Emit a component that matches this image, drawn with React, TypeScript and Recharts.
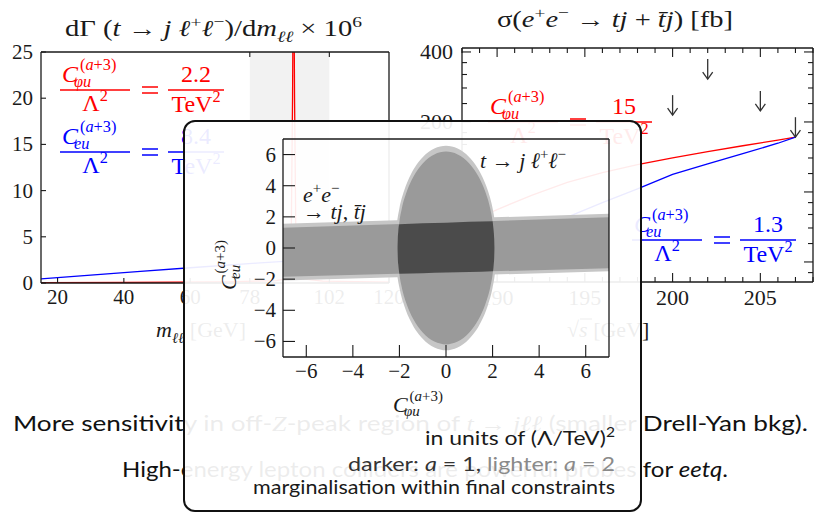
import React from 'react';
import { ComposedChart, Line, Area, Scatter, XAxis, YAxis, ReferenceArea } from 'recharts';

const W = 815;
const H = 514;
const SERIF = '"Liberation Serif", "DejaVu Serif", serif';
const SANS = 'Lato, "Liberation Sans", "DejaVu Sans", sans-serif';
const INK = '#1a1a1a';
const RED = '#ff0000';
const BLUE = '#0000ff';

// ---- left panel: dGamma(t -> j l+ l-)/dm_ll  x 1e6
const mllPhi = [15, 40, 70, 86, 89.5, 90.1, 90.5, 90.9, 91.2, 91.5, 91.9, 92.3, 93, 100, 120];
const dGammaPhi = [0.05, 0.07, 0.12, 0.25, 0.5, 0.9, 5, 20, 40, 20, 5, 0.9, 0.5, 0.2, 0.1];
const mllEu = [15, 30, 45, 60, 80, 100, 120];
const dGammaEu = [0.45, 0.85, 1.25, 1.65, 2.15, 2.6, 3.0];
const mllTicks = [20, 40, 60, 78, 102, 120];
const cutWindow = [78, 102];
const dGammaTicks = [0, 5, 10, 15, 20, 25];

// ---- right panel: sigma(e+e- -> tj + tbar j) [fb]
const sqrtS = [188, 190, 192, 194, 196, 198, 200, 202, 204, 206, 207];
const sigmaPhi = [72, 84, 97, 110, 121, 131, 140, 149, 158, 167, 172];
const sigmaEu = [50, 58, 67, 78, 90, 103, 119, 132, 146, 162, 172];
const lepEnergies = [200, 202, 205, 207];
const lepLimits = [214, 306, 223, 172];
const sqrtSTicks = [188, 189, 190, 191, 192, 193, 194, 195, 196, 197, 198, 199, 200, 201, 202, 203, 204, 205, 206, 207, 208];
const sqrtSLabels = [190, 195, 200, 205];
const sigmaTicks = [45, 50, 60, 70, 80, 90, 100, 120, 140, 160, 180, 200, 240, 280, 320, 360, 400];
const sigmaLabels = [50, 100, 200, 400];

// ---- inset: allowed region in (C_phiu, C_eu), units (Lambda/TeV)^2
const ellOuterX = [-2.17, -2.16, -2.14, -2.1, -2.0, -1.8, -1.5, -1.0, -0.5, 0, 0.5, 1.0, 1.5, 1.8, 2.0, 2.1, 2.14, 2.16, 2.17];
const ellOuterH = [0, 0.63, 1.09, 1.66, 2.55, 3.67, 4.75, 5.83, 6.39, 6.57, 6.39, 5.83, 4.75, 3.67, 2.55, 1.66, 1.09, 0.63, 0];
const ellInnerX = [-2.08, -2.07, -2.05, -2.0, -1.9, -1.7, -1.4, -1.0, -0.5, 0, 0.5, 1.0, 1.4, 1.7, 1.9, 2.0, 2.05, 2.07, 2.08];
const ellInnerH = [0, 0.61, 1.05, 1.7, 2.52, 3.57, 4.58, 5.43, 6.01, 6.19, 6.01, 5.43, 4.58, 3.57, 2.52, 1.7, 1.05, 0.61, 0];
const bandX = [-7, 7];
const bandOuterLo = [-2.08, -1.5];
const bandOuterHi = [1.55, 2.2];
const bandInnerLo = [-1.85, -1.3];
const bandInnerHi = [1.3, 1.97];
const coreX = [-2.08, -2.07, -2.05, -2.02, -2.0, 0, 2.0, 2.02, 2.05, 2.07, 2.08];
const coreLo = [-0.05, -0.61, -1.05, -1.48, -1.65, -1.575, -1.5, -1.48, -1.05, -0.61, -0.05];
const coreHi = [0.05, 0.61, 1.05, 1.48, 1.53, 1.625, 1.72, 1.48, 1.05, 0.61, 0.05];
const cTicks = [-6, -4, -2, 0, 2, 4, 6];

const rows = (xs: number[], ys: number[], k = 'x') => xs.map((x, i) => ({ [k]: x, v: ys[i] }));
const ranges = (xs: number[], lo: number[], hi: number[]) => xs.map((x, i) => ({ x, r: [lo[i], hi[i]] }));
const fmt = (v: number) => (v < 0 ? '\u2212' + Math.abs(v) : String(v));

// custom tick: draws the inward tick line and its label
const tickFn =
  (side: string, len: number | ((v: number) => number), label: ((v: number) => string) | null, size = 20, gap = 7) =>
  (p: any) => {
    const x = Number(p.x);
    const y = Number(p.y);
    const v = p.payload ? p.payload.value : 0;
    const L = typeof len === 'function' ? len(v) : len;
    const lab = label ? label(v) : '';
    let x2 = x, y2 = y, tx = x, ty = y, anchor = 'middle';
    if (side === 'left') { x2 = x + L; tx = x - gap; ty = y + size * 0.33; anchor = 'end'; }
    if (side === 'right') { x2 = x - L; tx = x + gap; ty = y + size * 0.33; anchor = 'start'; }
    if (side === 'top') { y2 = y + L; ty = y - gap; }
    if (side === 'bottom') { y2 = y - L; ty = y + gap; }
    return (
      <g>
        {L > 0 && <line x1={x} y1={y} x2={x2} y2={y2} stroke={INK} strokeWidth={1.1} />}
        {lab ? (
          <text x={tx} y={ty} textAnchor={anchor} fontFamily={SERIF} fontSize={size} fill={INK}
            style={{ fontFamily: SERIF }}>
            {lab}
          </text>
        ) : null}
      </g>
    );
  };

const axisLine = { stroke: INK, strokeWidth: 1.3 };

// plot box in page pixels -> chart margins (every axis is 1px thick)
const box = (l: number, r: number, t: number, b: number) => ({ left: l - 1, right: W - r - 1, top: t - 1, bottom: H - b - 1 });

type Seg = { t: string; i?: boolean; up?: boolean; dn?: boolean; f?: string; fam?: string };

function Rich({ x, y, size, segs, anchor = 'start', fill = INK, family = SERIF, len }: any) {
  let cur = 0;
  return (
    <text
      x={x}
      y={y}
      fontSize={size}
      fontFamily={family}
      fill={fill}
      textAnchor={anchor}
      textLength={len}
      lengthAdjust={len ? 'spacingAndGlyphs' : undefined}
    >
      {segs.map((s: Seg, k: number) => {
        const off = s.up ? -0.4 * size : s.dn ? 0.25 * size : 0;
        const dy = off - cur;
        cur = off;
        return (
          <tspan
            key={k}
            dy={dy}
            fontSize={s.up || s.dn ? 0.68 * size : size}
            fontStyle={s.i ? 'italic' : 'normal'}
            fill={s.f}
            fontFamily={s.fam}
          >
            {s.t}
          </tspan>
        );
      })}
    </text>
  );
}

// Wilson coefficient symbol C^{(a+3)}_{sub}
function Coef({ x, y, sub, fill = INK, size = 24 }: any) {
  const s = size * 0.68;
  return (
    <g fill={fill} fontFamily={SERIF}>
      <text x={x} y={y} fontSize={size} fontStyle="italic">C</text>
      <text x={x + 0.75 * size} y={y - 0.5 * size} fontSize={s}>
        (<tspan fontStyle="italic">a</tspan>+3)
      </text>
      <text x={x + 0.5 * size} y={y + 0.2 * size} fontSize={s} fontStyle="italic">{sub}</text>
    </g>
  );
}

// C/Lambda^2 = value/TeV^2
function CoefLegend({ x0, barY, sub, value, fill }: any) {
  return (
    <g>
      <Coef x={x0 + 2} y={barY - 8} sub={sub} fill={fill} />
      <line x1={x0} x2={x0 + 70} y1={barY} y2={barY} stroke={fill} strokeWidth={1.3} />
      <Rich x={x0 + 35} y={barY + 21} size={24} anchor="middle" fill={fill} segs={[{ t: '\u039B' }, { t: '2', up: true }]} />
      <line x1={x0 + 82} x2={x0 + 98} y1={barY - 3} y2={barY - 3} stroke={fill} strokeWidth={1.5} />
      <line x1={x0 + 82} x2={x0 + 98} y1={barY + 3} y2={barY + 3} stroke={fill} strokeWidth={1.5} />
      <text x={x0 + 136} y={barY - 8} fontSize={24} fontFamily={SERIF} fill={fill} textAnchor="middle">{value}</text>
      <line x1={x0 + 108} x2={x0 + 164} y1={barY} y2={barY} stroke={fill} strokeWidth={1.3} />
      <Rich x={x0 + 136} y={barY + 22} size={24} anchor="middle" fill={fill} segs={[{ t: 'TeV' }, { t: '2', up: true }]} />
    </g>
  );
}

const layer = (z: number): React.CSSProperties => ({ position: 'absolute', left: 0, top: 0, zIndex: z });

function LeftPanel() {
  return (
    <div style={layer(1)}>
      <ComposedChart width={W} height={H} margin={box(41, 389, 52, 283)}>
        <XAxis dataKey="m" type="number" domain={[15, 120]} allowDataOverflow ticks={mllTicks} interval={0}
          height={1} tickSize={0} tickMargin={0} tickLine={false} axisLine={axisLine}
          tick={tickFn('bottom', 5, (v) => String(v), 21, 21)} />
        <XAxis xAxisId="top" orientation="top" dataKey="m" type="number" domain={[15, 120]} allowDataOverflow
          ticks={cutWindow} interval={0} height={1} tickSize={0} tickMargin={0} tickLine={false} axisLine={axisLine}
          tick={tickFn('top', 5, null)} />
        <YAxis type="number" domain={[0, 25]} allowDataOverflow ticks={dGammaTicks} interval={0}
          width={1} tickSize={0} tickMargin={0} tickLine={false} axisLine={axisLine}
          tick={tickFn('left', 5, (v) => String(v), 21, 8)} />
        <YAxis yAxisId="right" orientation="right" type="number" domain={[0, 25]} allowDataOverflow
          ticks={dGammaTicks} width={1} tickSize={0} tickMargin={0} tickLine={false} axisLine={axisLine}
          tick={tickFn('right', 0, null)} />
        <ReferenceArea x1={cutWindow[0]} x2={cutWindow[1]} y1={0} y2={25} fill="#f2f2f2" fillOpacity={1} stroke="none" />
        <Line data={rows(mllEu, dGammaEu, 'm')} dataKey="v" stroke={BLUE} strokeWidth={1.3} dot={false} isAnimationActive={false} />
        <Line data={rows(mllPhi, dGammaPhi, 'm')} dataKey="v" stroke={RED} strokeWidth={1.3} dot={false} isAnimationActive={false} />
      </ComposedChart>
    </div>
  );
}

const arrowShape = (p: any) => {
  const cx = Number(p.cx);
  const cy = Number(p.cy);
  return (
    <g stroke="#333" strokeWidth={1.3} fill="none">
      <line x1={cx} y1={cy - 20} x2={cx} y2={cy} />
      <polyline points={`${cx - 5},${cy - 7} ${cx},${cy} ${cx + 5},${cy - 7}`} />
    </g>
  );
};

function RightPanel() {
  const major = (v: number) => (v % 5 === 0 ? 9 : 5);
  const ymajor = (v: number) => (sigmaLabels.includes(v) ? 9 : 5);
  return (
    <div style={layer(1)}>
      <ComposedChart width={W} height={H} margin={box(462, 813, 48, 282)}>
        <XAxis dataKey="s" type="number" domain={[188, 208]} allowDataOverflow ticks={sqrtSTicks} interval={0}
          height={1} tickSize={0} tickMargin={0} tickLine={false} axisLine={axisLine}
          tick={tickFn('bottom', major, (v) => (sqrtSLabels.includes(v) ? String(v) : ''), 22, 23)} />
        <XAxis xAxisId="top" orientation="top" dataKey="s" type="number" domain={[188, 208]} allowDataOverflow
          ticks={sqrtSTicks} interval={0} height={1} tickSize={0} tickMargin={0} tickLine={false} axisLine={axisLine}
          tick={tickFn('top', major, null)} />
        <YAxis type="number" scale="log" domain={[41, 416]} allowDataOverflow ticks={sigmaTicks} interval={0}
          width={1} tickSize={0} tickMargin={0} tickLine={false} axisLine={axisLine}
          tick={tickFn('left', ymajor, (v) => (sigmaLabels.includes(v) ? String(v) : ''), 22, 9)} />
        <YAxis yAxisId="right" orientation="right" type="number" scale="log" domain={[41, 416]} allowDataOverflow
          ticks={sigmaTicks} interval={0} width={1} tickSize={0} tickMargin={0} tickLine={false} axisLine={axisLine}
          tick={tickFn('right', ymajor, null)} />
        <Line data={rows(sqrtS, sigmaPhi, 's')} dataKey="v" stroke={RED} strokeWidth={1.3} dot={false} isAnimationActive={false} />
        <Line data={rows(sqrtS, sigmaEu, 's')} dataKey="v" stroke={BLUE} strokeWidth={1.3} dot={false} isAnimationActive={false} />
        <Scatter data={rows(lepEnergies, lepLimits, 's')} dataKey="v" shape={arrowShape} isAnimationActive={false} />
      </ComposedChart>
    </div>
  );
}

function PageText() {
  return (
    <svg width={W} height={H} style={layer(2)}>
      <Rich x={65} y={36} size={23} len={297} segs={[
        { t: 'd\u0393 (' }, { t: 't', i: true }, { t: ' \u2192 ' }, { t: 'j', i: true }, { t: ' \u2113', i: true },
        { t: '+', up: true }, { t: '\u2113', i: true }, { t: '\u2212', up: true }, { t: ')/d' }, { t: 'm', i: true },
        { t: '\u2113\u2113', dn: true, i: true }, { t: '  \u00D7 10' }, { t: '6', up: true },
      ]} />
      <Rich x={497} y={27} size={23} len={236} segs={[
        { t: '\u03C3(' }, { t: 'e', i: true }, { t: '+', up: true }, { t: 'e', i: true }, { t: '\u2212', up: true },
        { t: ' \u2192 ' }, { t: 'tj', i: true }, { t: ' + ' }, { t: 't\u0304j', i: true }, { t: ')  [fb]' },
      ]} />
      <CoefLegend x0={60} barY={90} sub={'\u03C6u'} value="2.2" fill={RED} />
      <CoefLegend x0={60} barY={152} sub="eu" value="8.4" fill={BLUE} />
      <CoefLegend x0={488} barY={122} sub={'\u03C6u'} value="15" fill={RED} />
      <CoefLegend x0={632} barY={240} sub="eu" value="1.3" fill={BLUE} />
      <Rich x={156} y={337} size={22} segs={[{ t: 'm', i: true }, { t: '\u2113\u2113', dn: true, i: true }, { t: ' [GeV]' }]} />
      <Rich x={567} y={337} size={22} segs={[{ t: '\u221A' }, { t: 's', i: true }, { t: ' [GeV]' }]} />
      <line x1={580} x2={592} y1={319} y2={319} stroke={INK} strokeWidth={1} />
      <Rich x={13} y={431} size={22} family={SANS} len={795} fill="#111" segs={[
        { t: 'More sensitivity in off-' }, { t: 'Z', i: true, fam: SERIF }, { t: '-peak region of ' },
        { t: 't', i: true, fam: SERIF }, { t: ' \u2192 ', fam: SERIF }, { t: 'j\u2113\u2113', i: true, fam: SERIF },
        { t: ' (smaller Drell-Yan bkg).' },
      ]} />
      <Rich x={122} y={477} size={22} family={SANS} len={606} fill="#111" segs={[
        { t: 'High-energy lepton colliders are powerful probes for ' }, { t: 'eetq', i: true }, { t: '.' },
      ]} />
    </svg>
  );
}

function Inset() {
  const g = { stroke: 'none', fillOpacity: 1, dot: false, activeDot: false, isAnimationActive: false, dataKey: 'r' } as any;
  return (
    <div style={layer(4)}>
      <ComposedChart width={W} height={H} margin={box(283, 609, 139, 357)}>
        <XAxis dataKey="x" type="number" domain={[-7, 7]} allowDataOverflow ticks={cTicks} interval={0}
          height={1} tickSize={0} tickMargin={0} tickLine={false} axisLine={axisLine}
          tick={tickFn('bottom', 12, fmt, 21, 21)} />
        <XAxis xAxisId="top" orientation="top" dataKey="x" type="number" domain={[-7, 7]} allowDataOverflow
          ticks={cTicks} height={1} tickSize={0} tickMargin={0} tickLine={false} axisLine={axisLine}
          tick={tickFn('top', 0, null)} />
        <YAxis type="number" domain={[-7, 7]} allowDataOverflow ticks={cTicks} interval={0}
          width={1} tickSize={0} tickMargin={0} tickLine={false} axisLine={axisLine}
          tick={tickFn('left', 12, fmt, 21, 7)} />
        <YAxis yAxisId="right" orientation="right" type="number" domain={[-7, 7]} allowDataOverflow
          ticks={cTicks} width={1} tickSize={0} tickMargin={0} tickLine={false} axisLine={axisLine}
          tick={tickFn('right', 0, null)} />
        <Area {...g} type="monotone" data={ranges(ellOuterX, ellOuterH.map((h) => -h), ellOuterH)} fill="#c6c6c6" />
        <Area {...g} type="linear" data={ranges(bandX, bandOuterLo, bandOuterHi)} fill="#c6c6c6" />
        <Area {...g} type="monotone" data={ranges(ellInnerX, ellInnerH.map((h) => -h), ellInnerH)} fill="#9a9a9a" />
        <Area {...g} type="linear" data={ranges(bandX, bandInnerLo, bandInnerHi)} fill="#9a9a9a" />
        <Area {...g} type="monotone" data={ranges(coreX, coreLo, coreHi)} fill="#4b4b4b" />
      </ComposedChart>
    </div>
  );
}

function InsetText() {
  return (
    <svg width={W} height={H} style={layer(5)}>
      <Rich x={480} y={168} size={22} segs={[
        { t: 't', i: true }, { t: ' \u2192 ' }, { t: 'j', i: true }, { t: ' \u2113', i: true }, { t: '+', up: true },
        { t: '\u2113', i: true }, { t: '\u2212', up: true },
      ]} />
      <Rich x={303} y={202} size={22} segs={[{ t: 'e', i: true }, { t: '+', up: true }, { t: 'e', i: true }, { t: '\u2212', up: true }]} />
      <Rich x={303} y={219} size={22} segs={[{ t: '\u2192 ' }, { t: 'tj', i: true }, { t: ', ' }, { t: 't\u0304j', i: true }]} />
      <Coef x={393} y={412} sub={'\u03C6u'} size={22} />
      <g transform="translate(236,290) rotate(-90)">
        <Coef x={0} y={0} sub="eu" size={22} />
      </g>
      <Rich x={615} y={445} size={20} family={SANS} anchor="end" len={190} segs={[
        { t: 'in units of (\u039B/TeV)' }, { t: '2', up: true },
      ]} />
      <Rich x={615} y={471} size={20} family={SANS} anchor="end" len={267} segs={[
        { t: 'darker:  ', f: '#333' }, { t: 'a', i: true, f: '#333' }, { t: ' = 1, ', f: '#333' },
        { t: 'lighter:  ', f: '#8a8a8a' }, { t: 'a', i: true, f: '#8a8a8a' }, { t: ' = 2', f: '#8a8a8a' },
      ]} />
      <Rich x={615} y={494} size={20} family={SANS} anchor="end" len={362} segs={[
        { t: 'marginalisation within final constraints' },
      ]} />
    </svg>
  );
}

export default function App() {
  return (
    <div style={{ position: 'absolute', left: 0, top: 0, width: W, height: H, background: '#fff', overflow: 'hidden' }}>
      <LeftPanel />
      <RightPanel />
      <PageText />
      <div
        style={{
          position: 'absolute',
          left: 183,
          top: 120,
          width: 459,
          height: 392,
          boxSizing: 'border-box',
          border: '2px solid #111',
          borderRadius: 12,
          background: 'rgba(255,255,255,0.92)',
          zIndex: 3,
        }}
      />
      <Inset />
      <InsetText />
    </div>
  );
}
